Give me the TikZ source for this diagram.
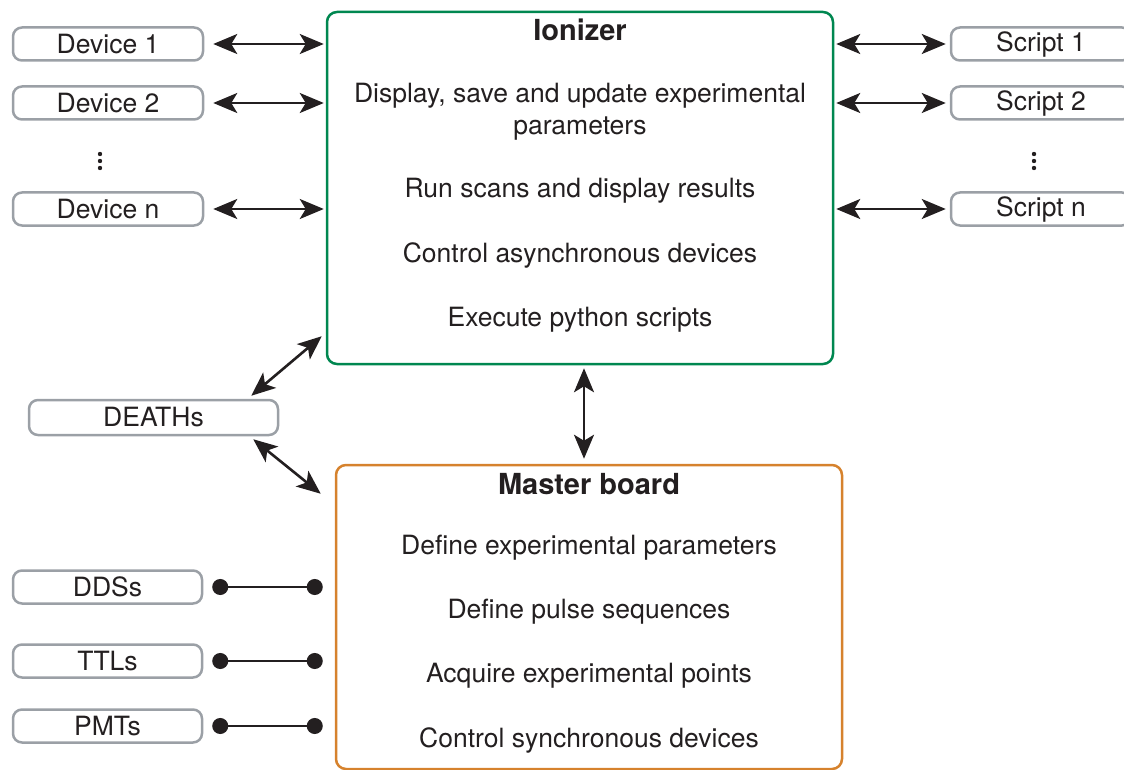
\documentclass[tikz,border=0pt]{standalone}
\usepackage{fontspec}
\setmainfont{TeX Gyre Heros}
\usetikzlibrary{arrows.meta}
\definecolor{iongreen}{RGB}{0,135,80}
\definecolor{mborange}{RGB}{214,130,45}
\definecolor{boxgray}{RGB}{155,160,166}
\definecolor{ink}{RGB}{35,31,32}
\begin{document}
\begin{tikzpicture}[x=1pt,y=-1pt,
  every node/.style={font=\fontsize{26.5}{32}\selectfont, text=ink, inner sep=0pt},
  smallbox/.style={draw=boxgray, line width=2.5pt, rounded corners=9pt, minimum height=33pt, inner sep=0pt},
  bigbox/.style={line width=2.5pt, rounded corners=10pt},
  titletext/.style={font=\fontsize{29}{34}\selectfont\bfseries},
  bi/.style={line width=2.6pt, draw=ink, arrows={Stealth[length=24pt,width=20pt,inset=6pt]-Stealth[length=24pt,width=20pt,inset=6pt]}},
  dotline/.style={line width=2.2pt, draw=ink, arrows={Circle[length=16pt]-Circle[length=16pt]}}]

\useasboundingbox (0,0) rectangle (1124,770);

% main boxes
\node[bigbox, draw=iongreen, minimum width=506pt, minimum height=352pt] (ion) at (580,188) {};
\node[bigbox, draw=mborange, minimum width=506pt, minimum height=304pt] (mb) at (589,617) {};

% ionizer text
\node[titletext] (iont) at (580,30) {Ionizer};
\node[align=center] (i1) at (580,112) {Display, save and update experimental\\parameters};
\node (i2) at (580,191) {Run scans and display results};
\node (i3) at (580,255) {Control asynchronous devices};
\node (i4) at (580,320) {Execute python scripts};

% master board text
\node[titletext] (mbt) at (589,484) {Master board};
\node (m1) at (589,548) {Define experimental parameters};
\node (m2) at (589,612) {Define pulse sequences};
\node (m3) at (589,676) {Acquire experimental points};
\node (m4) at (589,740) {Control synchronous devices};

% devices
\node[smallbox, minimum width=190pt] (d1) at (108,44) {Device 1};
\node[smallbox, minimum width=190pt] (d2) at (108,103) {Device 2};
\node[smallbox, minimum width=190pt] (dn) at (108,209) {Device n};
\fill[ink] (100,154) circle (2.2pt) (100,161) circle (2.2pt) (100,168) circle (2.2pt);

% scripts
\node[smallbox, minimum width=180pt] (s1) at (1041,44) {Script 1};
\node[smallbox, minimum width=180pt] (s2) at (1041,103) {Script 2};
\node[smallbox, minimum width=180pt] (sn) at (1041,209) {Script n};
\fill[ink] (1034,154) circle (2.2pt) (1034,161) circle (2.2pt) (1034,168) circle (2.2pt);

% DEATHs
\node[smallbox, minimum width=249pt, minimum height=35pt] (de) at (153.5,417.5) {DEATHs};

% synchronous devices
\node[smallbox, minimum width=189pt] (dds) at (107.5,587) {DDSs};
\node[smallbox, minimum width=189pt] (ttl) at (107.5,661) {TTLs};
\node[smallbox, minimum width=189pt] (pmt) at (107.5,726) {PMTs};

% connectors
\foreach \n in {d1,d2,dn}
  \draw[bi, shorten <=9pt, shorten >=2pt] (\n.east) -- (\n.east -| ion.west);
\foreach \n in {s1,s2,sn}
  \draw[bi, shorten <=2pt, shorten >=4pt] (\n.west -| ion.east) -- (\n.west);

\draw[bi] ([xshift=-28pt,yshift=3pt]de.north east) -- ([xshift=-4pt,yshift=29pt]ion.south west);
\draw[bi] ([xshift=-26pt,yshift=-3pt]de.south east) -- ([xshift=-14pt,yshift=-30pt]mb.north west);
\draw[bi, shorten <=3pt, shorten >=5pt] ([xshift=4pt]ion.south) -- ([xshift=-5pt]mb.north);

\foreach \n in {dds,ttl,pmt}
  \draw[dotline, shorten <=9pt, shorten >=12pt] (\n.east) -- (\n.east -| mb.west);
\end{tikzpicture}
\end{document}
